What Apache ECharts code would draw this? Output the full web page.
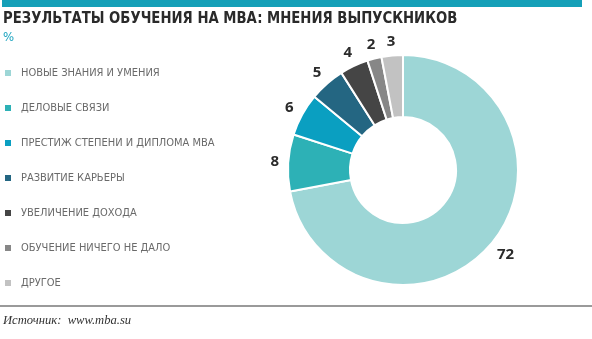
<!DOCTYPE html>
<html><head><meta charset="utf-8">
<script src="https://cdn.jsdelivr.net/npm/echarts@6/dist/echarts.min.js"></script>
<style>html,body{margin:0;padding:0;background:#fff}#c{width:592px;height:339px}</style>
</head><body><div id="c"></div>
<script>
const categories = ['НОВЫЕ ЗНАНИЯ И УМЕНИЯ','ДЕЛОВЫЕ СВЯЗИ','ПРЕСТИЖ СТЕПЕНИ И ДИПЛОМА MBA','РАЗВИТИЕ КАРЬЕРЫ','УВЕЛИЧЕНИЕ ДОХОДА','ОБУЧЕНИЕ НИЧЕГО НЕ ДАЛО','ДРУГОЕ'];
const values = [72, 8, 6, 5, 4, 2, 3];
const colors = ['#9dd6d6','#2db1b6','#0a9fc1','#246682','#454545','#878787','#c2c2c2'];
const titleText = 'РЕЗУЛЬТАТЫ ОБУЧЕНИЯ НА MBA: МНЕНИЯ ВЫПУСКНИКОВ';
const unitText = '%';
const sourceText = 'Источник:  www.mba.su';

const CX = 403, CY = 170, R_IN = 53, R_OUT = 115;

const chart = echarts.init(document.getElementById('c'));
chart.setOption({
  animation: false,
  color: colors,
  legend: {
    orient: 'vertical', left: 3, top: 67, padding: 0,
    icon: 'rect', itemWidth: 8, itemHeight: 8, itemGap: 23,
    selectedMode: false,
    textStyle: {fontFamily: 'DejaVu Sans Condensed', fontSize: 11, color: '#6a6a6a', lineHeight: 12, padding: [0,0,0,4]},
    data: categories
  },
  graphic: [
    {type: 'rect', shape: {x: 2, y: 0, width: 580, height: 7}, style: {fill: '#15a0b8'}},
    {type: 'text', x: 3, y: 11, scaleX: 0.92, style: {text: titleText, font: 'bold 16px "DejaVu Sans Condensed"', fill: '#2a2a2a'}},
    {type: 'text', x: 3, y: 31, style: {text: unitText, font: '13px "DejaVu Sans Condensed"', fill: '#1aa3bf'}},
    {type: 'rect', shape: {x: 0, y: 305, width: 592, height: 2}, style: {fill: '#9a9a9a'}},
    {type: 'text', x: 3, y: 314, style: {text: sourceText, font: 'italic 12.6px "Liberation Serif"', fill: '#333'}}
  ],
  series: [{
    type: 'pie',
    center: [CX, CY],
    radius: [R_IN, R_OUT],
    startAngle: 90,
    clockwise: true,
    avoidLabelOverlap: false,
    itemStyle: {borderColor: '#fff', borderWidth: 2},
    label: {show: true, position: 'outside', formatter: '{c}', fontFamily: 'Open Sans', fontWeight: 'bold', fontSize: 15, color: '#2b2b2b'},
    labelLine: {show: false, length: 6, length2: 2},
    labelLayout: function (p) {
      const pt = p.labelLinePoints && p.labelLinePoints[0];
      if (!pt) return {};
      const dx = pt[0] - CX, dy = pt[1] - CY;
      const len = Math.sqrt(dx * dx + dy * dy) || 1;
      const ux = dx / len, uy = dy / len;
      const r = R_OUT + 9 + Math.abs(ux) * p.labelRect.width / 2 + Math.abs(uy) * 4;
      return {x: CX + ux * r, y: CY + uy * r, align: 'center', verticalAlign: 'middle'};
    },
    emphasis: {disabled: true},
    data: categories.map((n, i) => ({name: n, value: values[i]}))
  }]
});
</script></body></html>
